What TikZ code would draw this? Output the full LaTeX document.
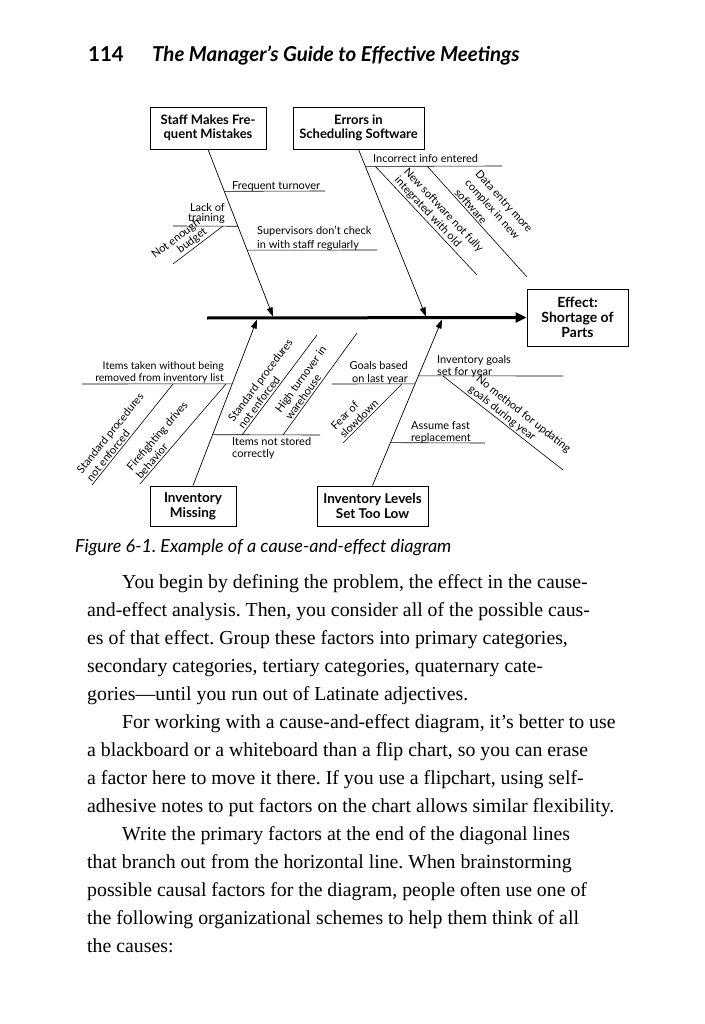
\documentclass[tikz,border=0pt]{standalone}
\usepackage{fontspec}
\setmainfont{Liberation Serif}
\newfontfamily\labfont{Lato}
\usetikzlibrary{arrows.meta,calc}
\frenchspacing
\begin{document}
\begin{tikzpicture}[x=1pt,y=-1pt,
  lab/.style={font=\labfont\fontsize{11}{12}\selectfont, inner sep=0pt},
  slab/.style={font=\labfont\fontsize{11}{12.5}\selectfont, inner sep=0pt, sloped, above=1.5pt, align=left},
  ebox/.style={draw, line width=0.9pt, font=\labfont\bfseries\fontsize{13}{14}\selectfont, align=center, inner sep=0pt},
  bone/.style={line width=0.6pt},
  cause/.style={line width=0.7pt, -{Triangle[length=9pt,width=6pt]}},
  body/.style={font=\frenchspacing\fontsize{19.8}{28}\selectfont, anchor=base west, inner sep=0pt},
  head/.style={font=\labfont\bfseries\fontsize{20.5}{22}\selectfont, inner sep=0pt},
]
\useasboundingbox (0,0) rectangle (704,1024);
\fill[white] (0,0) rectangle (704,1024);

% header
\node[head, anchor=base east] (pg) at (124,62) {114};
\node[head, anchor=base west, font=\labfont\bfseries\itshape\fontsize{20.5}{22}\selectfont] (title) at (152,62) {The Manager’s Guide to Effective Meetings};

% boxes
\node[ebox, minimum width=116pt, minimum height=42pt] (staff) at (208,128) {Staff Makes Fre-\\quent Mistakes};
\node[ebox, minimum width=131pt, minimum height=42pt] (errors) at (358.5,128) {Errors in\\Scheduling Software};
\node[ebox, minimum width=101pt, minimum height=57pt, font=\labfont\bfseries\fontsize{14}{15}\selectfont] (effect) at (577.5,317.5) {Effect:\\Shortage of\\Parts};
\node[ebox, minimum width=86pt, minimum height=40pt, font=\labfont\bfseries\fontsize{13.5}{15}\selectfont] (missing) at (193,506) {Inventory\\Missing};
\node[ebox, minimum width=111pt, minimum height=40pt, font=\labfont\bfseries\fontsize{13.5}{15}\selectfont] (levels) at (372.5,506) {Inventory Levels\\Set Too Low};

% spine
\coordinate (s0) at (207,318);
\draw[line width=3pt, -{Triangle[length=11pt,width=10pt]}] (s0) -- (effect.west);

% main branches
\coordinate (tipA) at (273,316.5);
\coordinate (tipB) at (426,316.5);
\coordinate (tipC) at (257,319.5);
\coordinate (tipD) at (442,319.5);
\draw[cause] (staff.south) -- (tipA);
\draw[cause] (errors.south) -- (tipB);
\draw[cause] (missing.north) -- (tipC);
\draw[cause] (levels.north) -- (tipD);

% staff sub-branches
\coordinate (ft) at ($(staff.south)!0.2507!(tipA)$);
\coordinate (ftE) at (325,191);
\draw[bone] (ft) -- (ftE);
\node[lab, anchor=north west] (ftL) at (232,181) {Frequent turnover};
\coordinate (lt) at ($(staff.south)!0.4597!(tipA)$);
\coordinate (ltW) at (173,226);
\draw[bone] (ltW) -- (lt);
\node[lab, anchor=north east, align=right, font=\labfont\fontsize{11}{10}\selectfont] (ltL) at (225,203) {Lack of\\training};
\coordinate (nbT) at (223,226);
\coordinate (nbB) at (173,264);
\draw[bone] (nbT) -- node[slab, pos=0.72, align=right, font=\labfont\fontsize{11}{10}\selectfont] (nbL) {Not enough\\budget} (nbB);
\coordinate (sv) at ($(staff.south)!0.603!(tipA)$);
\coordinate (svE) at (377,250);
\draw[bone] (sv) -- (svE);
\node[lab, anchor=north west, align=left, font=\labfont\fontsize{11}{13.5}\selectfont] (svL) at (257,226) {Supervisors don’t check\\in with staff regularly};

% errors sub-branches
\coordinate (ii) at ($(errors.south)!0.1015!(tipB)$);
\coordinate (iiE) at (502,166);
\draw[bone] (ii) -- (iiE);
\node[lab, anchor=north west] (iiL) at (373,154) {Incorrect info entered};
\coordinate (nsT) at (375,166);
\coordinate (nsB) at (477,275);
\draw[bone] (nsT) -- node[slab, pos=0.53] (nsL) {New software not fully\\integrated with old} (nsB);
\coordinate (deT) at (427,166);
\coordinate (deB) at (527,277);
\draw[bone] (deT) -- node[slab, pos=0.52, font=\labfont\fontsize{11}{14}\selectfont] (deL) {Data entry more\\complex in new\\software} (deB);

% inventory missing sub-branches
\coordinate (it) at ($(missing.north)!0.6126!(tipC)$);
\coordinate (itW) at (82,384);
\draw[bone] (itW) -- (it);
\node[lab, anchor=north east, align=right, font=\labfont\fontsize{10.6}{12}\selectfont] (itL) at (224,361) {Items taken without being\\removed from inventory list};
\coordinate (spaT) at (173,384);
\coordinate (spaB) at (92,485);
\draw[bone] (spaT) -- node[slab, pos=0.6] (spaL) {Standard procedures\\not enforced} (spaB);
\coordinate (ffT) at (226,384);
\coordinate (ffB) at (140,484);
\draw[bone] (ffT) -- node[slab, pos=0.64] (ffL) {Firefighting drives\\behavior} (ffB);
\coordinate (in) at ($(missing.north)!0.3063!(tipC)$);
\coordinate (inE) at (320,435);
\draw[bone] (in) -- (inE);
\node[lab, anchor=north west, align=left] (inL) at (232,437) {Items not stored\\correctly};
\coordinate (spbB) at (242,435);
\coordinate (spbT) at (317,335);
\draw[bone] (spbB) -- node[slab, pos=0.44] (spbL) {Standard procedures\\not enforced} (spbT);
\coordinate (htB) at (283,435);
\coordinate (htT) at (357,333);
\draw[bone] (htB) -- node[slab, pos=0.44] (htL) {High turnover in\\warehouse} (htT);

% inventory levels sub-branches
\coordinate (gb) at ($(levels.north)!0.6126!(tipD)$);
\coordinate (gbW) at (332,384);
\draw[bone] (gbW) -- (gb);
\node[lab, anchor=north east, align=right, font=\labfont\fontsize{11}{13}\selectfont] (gbL) at (408,361) {Goals based\\on last year};
\coordinate (fsT) at (402,384);
\coordinate (fsB) at (343,443);
\draw[bone] (fsT) -- node[slab, pos=0.66] (fsL) {Fear of\\slowdown} (fsB);
\coordinate (ig) at ($(levels.north)!0.6607!(tipD)$);
\coordinate (igE) at (563,376);
\draw[bone] (ig) -- (igE);
\node[lab, anchor=north west, align=left] (igL) at (437,355) {Inventory goals\\set for year};
\coordinate (nmT) at (443,376);
\coordinate (nmB) at (563,470);
\draw[bone] (nmT) -- node[slab, pos=0.57] (nmL) {No method for updating\\goals during year} (nmB);
\coordinate (af) at ($(levels.north)!0.2583!(tipD)$);
\coordinate (afE) at (485,443);
\draw[bone] (af) -- (afE);
\node[lab, anchor=north west, align=left] (afL) at (411,421) {Assume fast\\replacement};

% caption
\node[anchor=base west, inner sep=0pt, font=\labfont\itshape\fontsize{18}{20}\selectfont] (cap) at (75,552) {Figure 6-1. Example of a cause-and-effect diagram};

% body text
\node[body] (b1) at (122,588) {You begin by defining the problem, the effect in the cause-};
\node[body] (b2) at (87,616) {and-effect analysis. Then, you consider all of the possible caus-};
\node[body] (b3) at (87,644) {es of that effect. Group these factors into primary categories,};
\node[body] (b4) at (87,672) {secondary categories, tertiary categories, quaternary cate-};
\node[body] (b5) at (87,700) {gories—until you run out of Latinate adjectives.};
\node[body] (b6) at (122,728) {For working with a cause-and-effect diagram, it’s better to use};
\node[body] (b7) at (87,756) {a blackboard or a whiteboard than a flip chart, so you can erase};
\node[body] (b8) at (87,784) {a factor here to move it there. If you use a flipchart, using self-};
\node[body] (b9) at (87,812) {adhesive notes to put factors on the chart allows similar flexibility.};
\node[body] (b10) at (122,840) {Write the primary factors at the end of the diagonal lines};
\node[body] (b11) at (87,868) {that branch out from the horizontal line. When brainstorming};
\node[body] (b12) at (87,896) {possible causal factors for the diagram, people often use one of};
\node[body] (b13) at (87,924) {the following organizational schemes to help them think of all};
\node[body] (b14) at (87,952) {the causes:};
\end{tikzpicture}
\end{document}
